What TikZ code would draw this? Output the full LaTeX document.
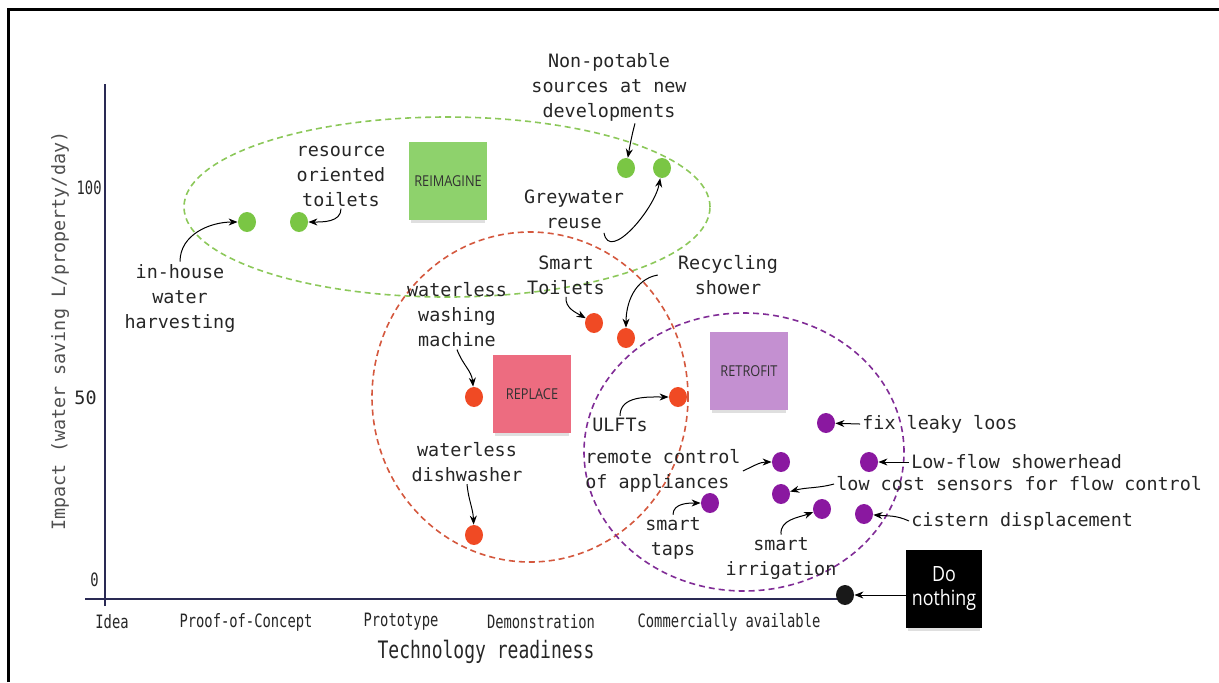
\documentclass[tikz,border=0pt]{standalone}
\usepackage{fontspec}
\setmonofont{DejaVu Sans Mono}
\newfontfamily\condmono[FakeStretch=0.75]{DejaVu Sans Mono}
\newfontfamily\notefont[FakeStretch=0.85]{Open Sans}
\usetikzlibrary{shapes.geometric,arrows.meta,shadows}

\definecolor{ringgreen}{RGB}{140,200,90}
\definecolor{ringred}{RGB}{212,88,62}
\definecolor{ringpurple}{RGB}{128,44,150}
\definecolor{dotgreen}{RGB}{122,198,68}
\definecolor{dotred}{RGB}{240,74,36}
\definecolor{dotpurple}{RGB}{138,24,160}
\definecolor{notegreen}{RGB}{142,210,108}
\definecolor{notered}{RGB}{237,108,128}
\definecolor{notepurple}{RGB}{196,144,209}
\definecolor{notetext}{RGB}{50,50,50}
\definecolor{axisblue}{RGB}{42,42,84}
\definecolor{labelgrey}{RGB}{38,38,38}
\definecolor{titlegrey}{RGB}{80,80,80}

\begin{document}
\begin{tikzpicture}[x=0.5pt,y=0.5pt,
	lbl/.style={font=\ttfamily\fontsize{9.2}{12.5}\selectfont,text=labelgrey,align=center,inner sep=1pt},
	tick/.style={font=\condmono\fontsize{9.2}{11}\selectfont,text=labelgrey,inner sep=1pt},
	dot/.style={ellipse,minimum width=9pt,minimum height=10pt,inner sep=0pt},
	sticky/.style={rectangle,minimum width=39pt,minimum height=39pt,inner sep=0pt,
		font=\notefont\fontsize{7.5}{9}\selectfont,text=notetext,
		drop shadow={shadow xshift=0pt,shadow yshift=-2.5pt,opacity=0.25,shadow scale=0.96}},
	callout/.style={-{Stealth[length=4.5pt,width=3.5pt]},line width=0.5pt,black},
	ring/.style={dash pattern=on 3pt off 2pt,line width=0.8pt},
	axis/.style={axisblue,line width=0.7pt}]

	\useasboundingbox (0,0) rectangle (1219,-682);
	\draw[line width=1.5pt] (8,-682) -- (8,-9) -- (1219,-9);

	\coordinate (ax_top) at (105,-84);
	\coordinate (ax_bot) at (105,-606);
	\coordinate (ax_left) at (85,-599);
	\coordinate (ax_right) at (845,-599);
	\draw[axis] (ax_bot) -- (ax_top);
	\draw[axis,line width=1.2pt] (ax_left) -- (ax_right);

	\node[tick,anchor=east] (t_100) at (104,-188) {100};
	\node[lbl,anchor=east] (t_50) at (99,-398) {50};
	\node[tick,anchor=east] (t_0) at (101,-580) {0};
	\node[lbl,text=titlegrey,rotate=90] (y_title) at (60,-331) {Impact (water saving L/property/day)};

	\node[tick] (x_idea) at (112,-622) {Idea};
	\node[tick] (x_poc) at (246,-622) {Proof-of-Concept};
	\node[tick] (x_proto) at (401,-622) {Prototype};
	\node[tick] (x_demo) at (541,-622) {Demonstration};
	\node[tick] (x_comm) at (729,-622) {Commercially available};
	\node[tick,font=\condmono\fontsize{12}{14}\selectfont] (x_title) at (486,-652) {Technology readiness};

	\draw[ring,ringgreen] (447,-207) ellipse [x radius=263, y radius=90];
	\draw[ring,ringred] (530,-397) ellipse [x radius=158, y radius=165];
	\draw[ring,ringpurple] (744,-452) ellipse [x radius=160, y radius=139];

	\node[sticky,fill=notegreen] (n_reimagine) at (448,-181) {REIMAGINE};
	\node[sticky,fill=notered] (n_replace) at (532,-394) {REPLACE};
	\node[sticky,fill=notepurple] (n_retrofit) at (749,-371) {RETROFIT};
	\node[sticky,fill=black,text=white,minimum width=38pt,font=\notefont\fontsize{10.5}{12}\selectfont,align=center] (n_do) at (944,-589) {Do\\nothing};

	\begin{scope}[every node/.style={dot}]
		\node[fill=dotgreen] (g_inhouse) at (247,-222) {};
		\node[fill=dotgreen] (g_res) at (299,-222) {};
		\node[fill=dotgreen] (g_nonpot) at (626,-168) {};
		\node[fill=dotgreen] (g_grey) at (662,-168) {};
		\node[fill=dotred] (r_smtoil) at (594,-323) {};
		\node[fill=dotred] (r_recyc) at (626,-338) {};
		\node[fill=dotred] (r_wash) at (474,-397) {};
		\node[fill=dotred] (r_ulft) at (678,-397) {};
		\node[fill=dotred] (r_dish) at (474,-535) {};
		\node[fill=dotpurple] (p_fix) at (826,-423) {};
		\node[fill=dotpurple] (p_remote) at (781,-462) {};
		\node[fill=dotpurple] (p_lowflow) at (869,-462) {};
		\node[fill=dotpurple] (p_sens) at (781,-494) {};
		\node[fill=dotpurple] (p_taps) at (710,-503) {};
		\node[fill=dotpurple] (p_irrig) at (822,-509) {};
		\node[fill=dotpurple] (p_cis) at (864,-514) {};
		\node[fill=black!90] (d_nothing) at (845,-595) {};
	\end{scope}

	\node[lbl] (l_nonpot) at (609,-87) {Non-potable\\sources at new\\developments};
	\node[lbl] (l_grey) at (574,-209) {Greywater\\reuse};
	\node[lbl] (l_res) at (341,-176) {resource\\oriented\\toilets};
	\node[lbl] (l_inhouse) at (180,-298) {in-house\\water\\harvesting};
	\node[lbl] (l_smtoil) at (566,-275) {Smart\\Toilets};
	\node[lbl] (l_recyc) at (728,-275) {Recycling\\shower};
	\node[lbl] (l_wash) at (457,-315) {waterless\\washing\\machine};
	\node[lbl] (l_dish) at (467,-462) {waterless\\dishwasher};
	\node[lbl] (l_ulft) at (620,-425) {ULFTs};
	\node[lbl,align=left,anchor=west] (l_remote) at (583,-471) {remote control\\of appliances};
	\node[lbl] (l_taps) at (673,-538) {smart\\taps};
	\node[lbl] (l_irrig) at (781,-558) {smart\\irrigation};
	\node[lbl,anchor=west] (l_fix) at (860,-424) {fix leaky loos};
	\node[lbl,anchor=west] (l_lowflow) at (909,-462) {Low-flow showerhead};
	\node[lbl,anchor=west] (l_sensor) at (834,-484) {low cost sensors for flow control};
	\node[lbl,anchor=west] (l_cistern) at (909,-521) {cistern displacement};

	\draw[callout] ([xshift=13pt]l_nonpot.south) to[out=-105,in=80] (g_nonpot);
	\draw[callout] ([xshift=15pt,yshift=-1pt]l_grey.south) to[out=-80,in=-100] (g_grey);
	\draw[callout] (l_res.south) to[out=-90,in=0] (g_res);
	\draw[callout] (l_inhouse.north) to[out=90,in=180] (g_inhouse);
	\draw[callout] (l_smtoil.south) to[out=-95,in=150] (r_smtoil);
	\draw[callout] ([xshift=-9pt]l_recyc.west) to[out=190,in=90] (r_recyc);
	\draw[callout] (l_wash.south) to[out=-70,in=95] (r_wash);
	\draw[callout] (l_dish.south) to[out=-85,in=92] (r_dish);
	\draw[callout] (l_ulft.north) to[out=90,in=180] (r_ulft);
	\draw[callout] (l_remote.east) to[out=25,in=180] (p_remote);
	\draw[callout] (l_taps.north) to[out=90,in=180] (p_taps);
	\draw[callout] (l_irrig.north) to[out=95,in=200] (p_irrig);
	\draw[callout] (l_fix.west) -- (p_fix);
	\draw[callout] (l_lowflow.west) -- (p_lowflow);
	\draw[callout] (l_sensor.west) to[out=195,in=15] (p_sens);
	\draw[callout] (l_cistern.west) to[out=155,in=-5] (p_cis);
	\draw[callout] (n_do.west |- d_nothing.east) -- (d_nothing.east);

\end{tikzpicture}
\end{document}
